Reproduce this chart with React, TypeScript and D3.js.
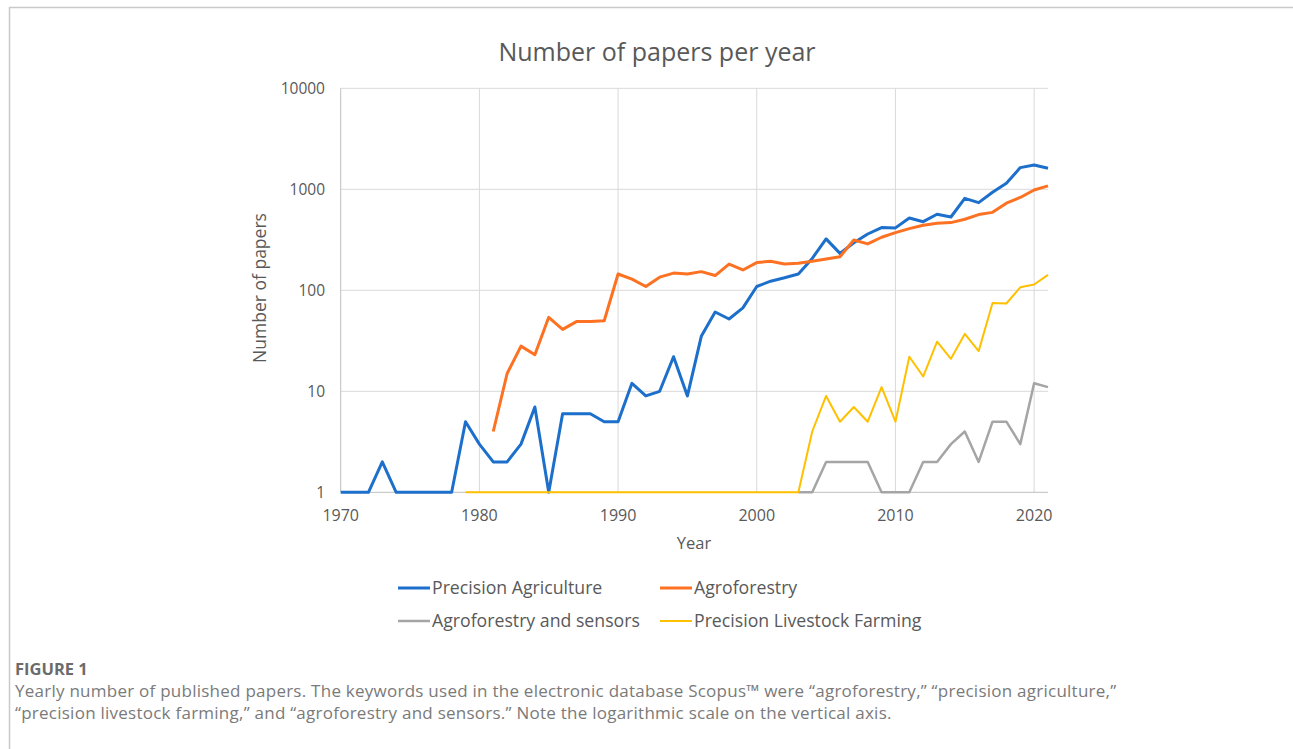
import React from 'react'
import * as d3 from 'd3'

const W = 1293
const H = 749

const precisionAgricultureYears = d3.range(1970, 2022)
const precisionAgriculture = [
  1, 1, 1, 2, 1, 1, 1, 1, 1, 5,
  3, 2, 2, 3, 7, 1, 6, 6, 6, 5,
  5, 12, 9, 10, 22, 9, 35, 61, 52, 67,
  109, 123, 133, 145, 207, 323, 232, 296, 361, 418,
  415, 520, 478, 566, 532, 814, 738, 935, 1150, 1640,
  1743, 1615,
]

const agroforestryYears = d3.range(1981, 2022)
const agroforestry = [
  4, 15, 28, 23, 54, 41, 49, 49, 50,
  145, 129, 109, 135, 148, 145, 153, 140, 182, 159,
  188, 194, 182, 185, 194, 204, 215, 315, 288, 335,
  372, 408, 441, 461, 468, 505, 562, 591, 728, 830,
  985, 1080,
]

const sensorsYears = d3.range(2003, 2022)
const agroforestrySensors = [
  1, 1, 2, 2, 2, 2, 1,
  1, 1, 2, 2, 3, 4, 2, 5, 5, 3,
  12, 11,
]

const livestockYears = d3.range(1979, 2022)
const livestockFarming = [
  1,
  1, 1, 1, 1, 1, 1, 1, 1, 1, 1,
  1, 1, 1, 1, 1, 1, 1, 1, 1, 1,
  1, 1, 1, 1, 4, 9, 5, 7, 5, 11,
  5, 22, 14, 31, 21, 37, 25, 75, 74, 107,
  114, 142,
]

const yTicks = [1, 10, 100, 1000, 10000]
const xTicks = [1970, 1980, 1990, 2000, 2010, 2020]

const series = [
  { name: 'Precision Agriculture', years: precisionAgricultureYears, values: precisionAgriculture, color: '#1c6fcb', width: 3 },
  { name: 'Agroforestry', years: agroforestryYears, values: agroforestry, color: '#fd7222', width: 3 },
  { name: 'Agroforestry and sensors', years: sensorsYears, values: agroforestrySensors, color: '#a5a5a5', width: 2.5 },
  { name: 'Precision Livestock Farming', years: livestockYears, values: livestockFarming, color: '#ffc000', width: 2 },
]

const captionLines = [
  'Yearly number of published papers. The keywords used in the electronic database Scopus\u2122 were \u201cagroforestry,\u201d \u201cprecision agriculture,\u201d',
  '\u201cprecision livestock farming,\u201d and \u201cagroforestry and sensors.\u201d Note the logarithmic scale on the vertical axis.',
]

const chartFont = '"Open Sans", "Noto Sans", sans-serif'
const textGray = '#595959'

export default function App() {
  const x = d3.scaleLinear().domain([1970, 2021]).range([340.7, 1048])
  const y = d3.scaleLog().domain([1, 10000]).range([492.3, 88.3])

  const line = d3.line<[number, number]>()
    .x(d => x(d[0]))
    .y(d => y(d[1]))

  const legendPos = [
    { x: 398, y: 588 },
    { x: 660, y: 588 },
    { x: 398, y: 621 },
    { x: 660, y: 621 },
  ]

  return (
    <svg width={W} height={H} style={{ position: 'absolute', left: 0, top: 0, background: '#fff' }}>
      {/* figure frame */}
      <path d={`M9.5,${H} V7.5 H${W}`} fill="none" stroke="#c9c9c9" strokeWidth={1.5} />

      <text x={657} y={61} textAnchor="middle" fontFamily={chartFont} fontSize={25} fill={textGray}>
        Number of papers per year
      </text>

      {/* gridlines */}
      {yTicks.slice(1).map(t => (
        <line key={'gy' + t} x1={x(1970)} x2={x(2021)} y1={y(t)} y2={y(t)} stroke="#d9d9d9" strokeWidth={1} />
      ))}
      {xTicks.slice(1).map(t => (
        <line key={'gx' + t} x1={x(t)} x2={x(t)} y1={y(10000)} y2={y(1)} stroke="#d9d9d9" strokeWidth={1} />
      ))}
      <line x1={x(1970)} x2={x(1970)} y1={y(10000)} y2={y(1)} stroke="#bfbfbf" strokeWidth={1} />
      <line x1={x(1970)} x2={x(2021)} y1={y(1)} y2={y(1)} stroke="#bfbfbf" strokeWidth={1} />

      {yTicks.map(t => (
        <text key={'ty' + t} x={325} y={y(t)} dy="0.35em" textAnchor="end" fontFamily={chartFont} fontSize={15.5} fill={textGray}>
          {t}
        </text>
      ))}
      {xTicks.map(t => (
        <text key={'tx' + t} x={x(t)} y={521} textAnchor="middle" fontFamily={chartFont} fontSize={16} fill={textGray}>
          {t}
        </text>
      ))}

      <text x={694} y={549} textAnchor="middle" fontFamily={chartFont} fontSize={16.5} fill={textGray}>Year</text>
      <text transform="translate(266,288) rotate(-90)" textAnchor="middle" fontFamily={chartFont} fontSize={17.5} fill={textGray}>
        Number of papers
      </text>

      {series.map(s => (
        <path
          key={s.name}
          d={line(s.years.map((yr, i) => [yr, s.values[i]] as [number, number])) || ''}
          fill="none"
          stroke={s.color}
          strokeWidth={s.width}
          strokeLinejoin="round"
        />
      ))}

      {series.map((s, i) => (
        <g key={'lg' + s.name} transform={`translate(${legendPos[i].x},${legendPos[i].y})`}>
          <line x1={0} x2={32} y1={0} y2={0} stroke={s.color} strokeWidth={s.width} />
          <text x={34} y={0} dy="0.35em" fontFamily={chartFont} fontSize={17.7} fill={textGray}>{s.name}</text>
        </g>
      ))}

      <text x={15} y={675} fontFamily={chartFont} fontWeight={700} fontSize={16.5} fill="#6b6b6b">FIGURE 1</text>
      {captionLines.map((l, i) => (
        <text key={'c' + i} x={15} y={697 + i * 22} fontFamily={chartFont} fontSize={17} letterSpacing={0.25} fill="#7a7a7a">{l}</text>
      ))}
    </svg>
  )
}
